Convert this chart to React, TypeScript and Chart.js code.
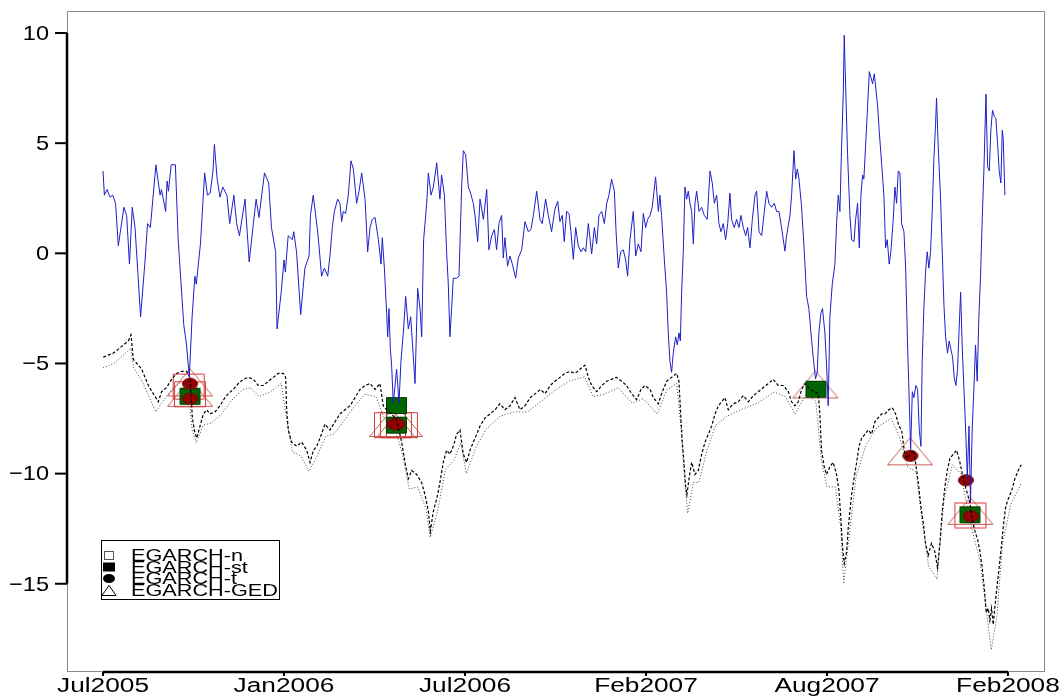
import React, { useEffect, useRef } from "react";
import { Chart, registerables } from "chart.js";

Chart.register(...registerables);

// ---------- data (x = trading-day index, y = percent) ----------
const xTickDays = [0, 130, 260, 390, 520, 650];
const xTickLabels = ["Jul2005", "Jan2006", "Jul2006", "Feb2007", "Aug2007", "Feb2008"];
const yTicks = [10, 5, 0, -5, -10, -15];

const returnDays = [
  0, 1, 3, 5, 7, 9, 11, 15, 17, 19, 21, 23, 27, 30, 32, 34, 38, 41, 42, 45, 46, 47, 49, 52, 54, 58, 60, 62, 64, 66, 67, 70,
  73, 75, 77, 79, 80, 82, 84, 86, 89, 91, 94, 96, 98, 102, 105, 108, 110, 112, 116, 119, 121, 124, 125, 128, 130, 131, 133,
  136, 137, 139, 142, 145, 148, 149, 151, 154, 155, 157, 159,
  161.4, 163.0, 164.7, 166.2, 168.5, 170.2, 171.4, 172.6, 174.3, 176.2, 178.1, 179.8, 182.2, 183.9, 185.8, 188.2, 190.1,
  191.8, 193.4, 195.4, 197.8, 199.7, 200.6, 202.1, 203.7, 204.5, 205.4, 206.4, 207.3, 208.5, 210.9, 212.6, 214.0, 215.7,
  217.4, 219.3, 221.0, 222.9, 224.1, 226.0, 227.7, 228.9, 230.3, 232.5, 233.7, 235.6, 237.3, 239.7, 242.0, 243.2, 245.2,
  246.8, 248.0, 249.2, 250.4, 251.6, 254.0, 255.7, 257.6, 258.8, 260.5, 262.4, 263.6, 266.0, 267.2, 269.1, 270.8, 273.2,
  275.6, 277.2, 279.2, 281.1, 282.7, 284.4, 286.3, 287.5, 288.7, 290.6, 292.3, 294.0, 296.4, 298.3, 300.7, 303.1, 305.5,
  307.4, 309.1, 311.5, 313.9, 315.5, 317.9, 319.9, 322.2, 324.6,
  326.6, 328.2, 329.9, 331.3, 333.0, 334.7, 336.1, 337.8, 339.5, 341.4, 343.3, 345.0, 346.7, 348.6, 351.0, 352.9, 354.6,
  356.2, 358.2, 360.1, 361.8, 363.4, 365.3, 367.3, 368.5, 370.1, 371.8, 373.7, 375.4, 376.8, 378.5, 380.9, 382.6, 384.5,
  386.4, 388.1, 389.8, 391.2, 392.9, 394.5, 396.9, 398.9, 400.0, 401.2, 403.2, 404.8, 406.0, 407.2, 408.4, 409.6, 411.3,
  412.5, 413.7, 414.7, 415.6, 416.8, 418.0, 419.2, 420.4, 421.6, 422.8, 424.0, 425.2, 426.4, 428.1, 430.0, 431.9, 434.0,
  436.0, 437.6, 439.1, 440.8, 442.4, 443.9, 445.5, 447.2, 448.7, 450.3, 451.5, 453.4, 455.1, 456.8, 458.2, 459.9, 461.6,
  463.0, 464.7, 466.4, 468.3, 469.5, 471.2, 473.1, 475.0, 476.7, 478.3, 480.3, 482.2, 483.8, 485.5, 487.4, 489.8,
  491.0, 492.2, 493.4, 494.6, 496.3, 497.5, 498.7, 499.9, 501.8, 503.7, 505.4, 507.0, 508.5, 510.1, 511.8, 513.0, 514.2,
  515.7, 516.8, 518.5, 519.7, 520.9, 522.1, 523.8, 525.7, 526.9, 528.1, 529.3, 530.5, 531.7, 532.4, 533.4, 534.8, 536.5,
  537.7, 539.4, 540.6, 542.0, 543.2, 544.4, 545.6, 546.5, 547.7, 549.2, 550.4, 551.6, 552.8, 554.0, 554.9, 556.4, 557.5,
  559.2, 560.9, 562.1, 563.3, 564.7, 565.9, 567.6, 568.8, 570.0, 571.2, 572.4, 573.6, 575.3, 576.5, 577.9, 579.1, 580.1,
  581.3, 582.4, 583.9, 585.1, 586.3, 587.5, 588.4, 589.6, 590.8, 592.0, 593.2, 594.4, 595.6, 596.8, 598.0, 598.7, 599.9,
  601.6, 602.8, 604.0, 605.2, 606.6, 607.8, 609.0, 610.2, 611.4, 612.6, 613.8, 614.8, 616.0, 617.2, 618.4, 619.6, 620.8,
  622.0, 623.1, 624.3, 625.5, 626.7, 627.9, 629.1, 630.3, 631.5, 632.7, 634.2, 635.4, 636.6, 637.7, 638.9, 640.1, 641.3,
  642.5, 643.7, 644.9, 645.9, 646.6, 647.8,
];
const returnValues = [
  3.74, 2.64, 2.9, 2.55, 2.64, 2.27, 0.34, 2.09, 1.72, -0.49, 2.09, 1.17, -2.88, -0.49, 1.35, 1.17, 4.02, 2.64, 2.9, 1.9,
  3.28, 2.82, 4.02, 4.02, 0.62, -3.24, -4.16, -5.6, -2.88, -1.04, -1.4, 0.43,
  3.65, 2.64, 2.73, 3.74, 4.94, 3.37, 2.55, 3.01, 2.64, 1.35, 2.64, 1.35, 0.8, 2.46, -0.39, 1.35, 2.46, 1.63, 3.65, 3.19,
  1.17, 0.07, -3.43, -1.77, -0.3, -0.85, 0.8,
  0.62, 0.98, 0.07, -2.78, -0.67, -0.12, 1.72, 2.64, 1.08, 0.43, -1.04, -0.67,
  -1.04, -0.12, 1.17, 1.9, 2.46, 2.27, 1.44, 1.9, 1.81, 2.64, 4.2, 3.83, 2.27, 2.82, 3.65, 2.46, 0.07,
  1.17, 1.54, 1.63, 0.62, -0.49, 0.71, -0.67, -2.69, -3.79, -2.51, -4.35, -5.08, -6.8, -5.26, -6.8, -4.9, -3.61,
  -1.96, -3.43, -2.88, -4.71, -5.91, -1.59, -2.51, -3.79, 0.62, 2.27, 3.65, 2.64, 3.01, 4.11, 2.46, 3.56, 2.64,
  0.07, -1.4, -3.79, -2.51, -1.13, -1.13, -1.04, 3.01, 4.66, 4.48, 3.01, 2.82, 2.27, 1.72, 0.53, 2.46, 1.54,
  2.9, 0.16, 0.8, 1.08, 0.16, 1.35, 1.72, -0.21, 0.71, -0.58, -0.12, -0.49, -1.13, -0.21, 0.16, 1.44, 0.98,
  1.08, 1.72, 2.82, 1.54, 1.35, 2.46, 1.72, 0.98, 2.0,
  2.36, 1.44, 1.72, 0.53, 1.9, 1.81, 0.98, -0.27, 1.17, 0.34, 0.07, 0.25, 0.07, 1.35, -0.03, 1.17, 0.43,
  1.72, 1.9, 1.35, 2.27, 2.64, 3.37, 2.82, 0.98, -0.67, 0.07, 0.16, -0.3, -1.04, 0.62, 1.9, -0.12, 0.43,
  0.07, 1.81, 1.17, 1.54, 1.72, 2.09, 3.47, 1.9, 2.64, 1.72, -0.3, -1.77, -3.61, -4.9, -5.4, -4.53, -3.79,
  -4.16, -3.61, -3.98, -1.77, 0.07, 3.01, 2.46, 2.82, 2.27, 1.9, 0.43, 2.27, 2.82, 1.9, 2.09, 1.72, 1.54,
  3.74, 3.19, 2.27, 2.64, 1.35, 0.98, 1.35, 0.62, 1.35, 2.73, 1.54, 1.17, 1.54, 1.17, 1.72, 1.17, 0.8,
  1.17, 0.25, 1.54, 2.64, 2.82, 0.98, 0.8, 1.9, 2.82, 2.27, 2.09, 2.27, 1.9, 1.9, 1.17, 0.1,
  0.8, 1.26, 1.72, 2.64, 4.66, 3.37, 3.83, 3.37, 2.09, 0.07, -1.96, -2.51, -3.61, -4.71, -5.7, -5.4, -3.61,
  -2.69, -2.51, -3.61, -5.08, -6.92, -2.88, -1.4, -0.49, 1.35, 2.64, 1.9, 4.85, 7.23, 9.9, 7.6, 4.48, 1.72,
  0.62, 0.53, 1.54, 2.27, 0.25, 2.64, 3.56, 3.37, 4.85, 6.68, 8.25, 7.97, 7.7, 8.15, 7.6, 6.68, 5.58,
  4.11, 2.64, 0.25, 0.62, -0.49, 0.07, 1.54, 3.01, 2.27, 3.74, 3.65, 1.35, 0.98, -0.67, -4.16, -6.74, -8.9,
  -6.28, -6.55, -6.0, -6.18, -8.02, -8.76, -4.9, -2.51, -0.85, 0.07, -0.67, 0.07, 1.9, 4.3, 5.86, 7.05, 4.85,
  2.46, 0.07, -2.32, -3.79, -4.53, -3.98, -4.35, -4.71, -5.63, -6.0, -5.26, -3.61, -1.77, -4.35, -6.18, -8.02, -10.2,
  -7.84, -11.3, -8.02, -6.18, -4.16, -5.81, -2.88, -1.04, 1.54, 3.74, 7.23, 3.93, 3.74, 5.58, 6.5, 6.22, 6.13,
  5.03, 3.74, 3.19, 5.58, 5.21, 2.64,
];

const varDays = [
  0.2, 3.8, 7.4, 11.0, 14.6, 18.2, 20.1, 21.8, 24.2, 27.8, 30.2, 32.6, 36.1, 39.7, 42.1, 45.7, 49.3, 52.9, 56.5, 60.1,
  62.5, 64.2, 65.6, 67.3, 69.7, 72.1, 74.5, 76.8, 80.4, 84.0, 87.6, 90.0, 93.6, 97.2, 100.8, 104.4, 108.0, 111.6, 115.1,
  118.7, 122.3, 125.9, 129.5, 131.2, 131.9, 133.1, 135.5, 139.1, 142.7, 146.3, 148.7, 151.1, 153.5, 155.9, 159.4, 163.0,
  166.6, 170.2, 173.8, 177.4, 181.0, 184.6, 188.2, 191.8, 195.4, 198.9, 201.3, 203.7, 207.3, 210.9, 214.5, 216.9, 219.3,
  221.7, 225.3, 228.9, 231.3, 233.7, 235.1, 237.3, 239.7, 242.0, 244.4, 246.8, 249.2, 251.6, 254.0, 256.4, 258.8, 261.2,
  263.6, 266.0, 268.4, 270.8, 274.4, 278.0, 281.6, 285.1, 288.7, 292.3, 295.9, 299.5, 303.1, 306.9, 310.5, 314.1, 317.5,
  321.2, 324.6, 328.2, 331.8, 335.4, 339.0, 342.6, 346.2, 348.6, 351.0, 354.6, 358.2, 361.8, 365.3, 368.9, 372.5, 376.1,
  379.7, 383.3, 386.4, 389.3, 392.9, 395.3, 398.9, 401.2, 404.8, 408.4, 412.0, 413.7, 414.9, 416.1, 417.3, 418.5, 419.4,
  420.9, 422.8, 425.2, 427.6, 430.0, 432.4, 434.8, 437.2, 439.6, 442.0, 444.3, 446.7, 449.1, 452.7, 456.3, 459.9, 463.5,
  467.1, 470.7, 474.3, 477.9, 481.4, 485.0, 488.6, 492.2, 494.6, 497.0, 499.4, 501.8, 504.2, 507.8, 511.3, 513.7, 514.9,
  516.1, 518.0, 519.7, 522.1, 524.5, 526.9, 528.6, 530.0, 531.2, 532.4, 534.1, 535.3, 536.5, 537.7, 539.4, 541.3, 543.0,
  544.9, 547.3, 549.7, 552.0, 554.4, 556.8, 559.2, 561.6, 564.5, 566.9, 569.3, 571.7, 573.6, 575.5, 577.2, 579.6, 582.0,
  583.6, 585.6, 587.5, 589.2, 590.8, 592.7, 595.1, 597.5, 599.4, 601.1, 602.8, 604.7, 606.4, 608.3, 610.7, 613.1, 615.5,
  617.9, 620.3, 622.7, 624.3, 626.3, 628.2, 629.9, 631.5, 633.0, 634.4, 635.8, 637.0, 638.2, 639.4, 641.1, 643.0, 644.9,
  646.6, 648.3, 650.2, 652.6, 655.0, 657.4, 659.5,
];
const varValues = [
  -4.71, -4.62, -4.53, -4.35, -4.16, -3.98, -3.7, -4.81, -4.99, -5.26, -5.63, -6.0, -6.37, -6.74, -6.28, -6.09, -5.72,
  -5.45, -5.36, -5.36, -5.63, -7.47, -8.02, -8.39, -7.84, -7.29, -7.1, -7.29, -7.2, -6.92, -6.55, -6.37, -6.18, -5.91,
  -5.72, -5.63, -5.72, -6.0, -6.0, -5.81, -5.63, -5.45, -5.45, -5.63, -7.1, -8.02, -8.57, -8.76, -8.57, -8.94, -9.49,
  -8.94, -8.76, -8.39, -7.75, -8.02, -7.65, -7.29, -7.1, -6.92, -6.55, -6.18, -6.0, -5.91, -6.18, -5.91, -6.92, -7.1,
  -7.29, -7.56, -8.57, -9.49, -10.23, -9.86, -10.04, -10.41, -10.96, -11.7, -12.62, -11.7, -11.15, -10.41, -9.49, -8.94,
  -9.12, -8.76, -8.21, -8.02, -9.12, -9.49, -8.94, -8.57, -8.21, -7.84, -7.47, -7.29, -7.1, -6.83, -7.1, -6.92, -6.55,
  -7.1, -6.92, -6.55, -6.37, -6.18, -6.37, -6.0, -5.81, -5.63, -5.45, -5.36, -5.45, -5.26, -5.08, -5.63, -6.0, -6.28,
  -6.0, -5.81, -5.72, -5.63, -5.81, -6.0, -6.37, -6.64, -6.18, -6.0, -6.18, -6.55, -6.83, -6.37, -5.81, -5.63, -5.45,
  -5.81, -7.29, -8.57, -9.49, -10.6, -10.96, -10.23, -9.49, -10.04, -9.86, -9.12, -8.57, -8.21, -7.84, -7.29, -6.92,
  -6.74, -6.55, -7.1, -6.83, -6.74, -6.46, -6.74, -6.46, -6.28, -6.09, -5.91, -5.72, -6.0, -6.0, -6.27, -6.74, -6.92,
  -6.74, -6.18, -5.91, -6.18, -6.28, -6.37, -7.29, -8.94, -9.68, -10.04, -9.68, -9.49, -10.04, -10.78, -12.07, -13.35,
  -14.09, -13.54, -12.44, -11.7, -10.96, -10.23, -9.49, -8.76, -8.39, -8.21, -8.02, -8.21, -7.65, -7.47, -7.29, -7.29,
  -7.1, -7.01, -7.29, -7.84, -8.02, -8.94, -9.31, -9.12, -8.94, -9.49, -10.41, -11.52, -12.25, -13.17, -13.72, -13.17,
  -13.54, -14.27, -13.17, -11.7, -10.6, -9.86, -9.31, -9.12, -8.94, -9.49, -10.23, -10.78, -11.33, -12.07, -12.62,
  -12.99, -13.54, -14.27, -15.19, -16.3, -16.11, -16.66, -16.11, -16.85, -15.74, -14.64, -13.54, -12.44, -11.52, -11.15,
  -10.78, -10.23, -9.86, -9.6,
];

const varLowDays = [
  0, 8, 15, 20, 22, 28, 33, 38, 42, 48, 55, 61, 64, 67, 72, 78, 85, 92, 100, 106, 112, 120, 128, 132, 136, 142, 148, 153,
  160, 166, 172, 180, 188, 196, 202, 210, 215, 220, 226, 232, 235, 240, 246, 252, 257, 261, 268, 275, 285, 295, 305, 315,
  325, 335, 346, 352, 360, 370, 380, 388, 398, 405, 412, 415, 418, 420, 424, 428, 434, 440, 448, 458, 470, 482, 490, 497,
  505, 512, 516, 520, 526, 530, 532, 536, 541, 548, 556, 566, 572, 578, 584, 588, 593, 599, 604, 610, 616, 624, 630, 634,
  638, 642, 646, 652, 660,
];
const varLowValues = [
  -5.2, -5.0, -4.6, -4.3, -5.2, -5.8, -6.5, -7.2, -6.8, -6.3, -5.9, -6.0, -8.0, -8.6, -7.8, -7.7, -7.3, -6.7, -6.2, -6.1,
  -6.5, -6.3, -5.9, -7.6, -9.0, -9.2, -9.9, -9.3, -8.3, -8.2, -7.7, -7.0, -6.4, -6.5, -7.5, -8.0, -9.1, -10.7, -10.6,
  -11.6, -12.9, -11.8, -9.8, -9.4, -8.6, -10.0, -8.8, -8.0, -7.4, -7.2, -7.2, -6.7, -6.2, -5.8, -5.6, -6.5, -6.4, -6.1,
  -6.8, -6.6, -7.3, -6.2, -5.9, -7.8, -10.5, -11.8, -10.4, -10.4, -8.9, -7.8, -7.4, -7.1, -6.8, -6.3, -6.5, -7.3, -6.4,
  -6.7, -9.4, -10.6, -10.6, -12.5, -15.0, -12.8, -10.1, -8.7, -7.9, -7.5, -8.3, -9.7, -9.9, -12.0, -14.2, -14.8, -11.2,
  -9.6, -10.0, -12.5, -14.0, -16.0, -18.0, -16.5, -13.2, -11.4, -10.4,
];

const egarchNDays = [61.5, 62.5, 206.1, 210.4, 214.7, 623.0];
const egarchNValues = [-6.05, -6.4, -7.8, -7.8, -7.8, -11.9];
const egarchStDays = [62.5, 210.8, 210.8, 512.1, 622.7];
const egarchStValues = [-6.49, -6.91, -7.8, -6.17, -11.87];
const egarchTDays = [62.5, 62.5, 209.3, 211.5, 579.9, 619.8, 623.4];
const egarchTValues = [-5.92, -6.6, -7.75, -7.75, -9.19, -10.3, -11.94];
const egarchGedDays = [62.5, 62.5, 207.6, 213.3, 511.7, 579.6, 623.0];
const egarchGedValues = [-5.86, -6.33, -7.7, -7.7, -5.95, -8.99, -11.69];

const legendLabels = ["EGARCH-n", "EGARCH-st", "EGARCH-t", "EGARCH-GED"];

// ---------- helpers ----------
const pts = (xs: number[], ys: number[]) => xs.map((x, i) => ({ x, y: ys[i] }));

function makeSymbol(kind: string, w: number, h: number, stroke: string, fill: string | null) {
  const c = document.createElement("canvas");
  c.width = w + 2;
  c.height = h + 2;
  const g = c.getContext("2d")!;
  g.lineWidth = 1;
  g.strokeStyle = stroke;
  g.beginPath();
  if (kind === "rect") g.rect(1.5, 1.5, w - 1, h - 1);
  else if (kind === "ellipse") g.ellipse(c.width / 2, c.height / 2, w / 2 - 0.5, h / 2 - 0.5, 0, 0, Math.PI * 2);
  else if (kind === "tri") {
    g.moveTo(c.width / 2, 1.5);
    g.lineTo(w + 0.5, h + 0.5);
    g.lineTo(1.5, h + 0.5);
    g.closePath();
  }
  if (fill) {
    g.fillStyle = fill;
    g.fill();
  }
  g.stroke();
  return c;
}

function drawScaledText(ctx: CanvasRenderingContext2D, text: string, x: number, y: number, align: CanvasTextAlign, sx: number) {
  ctx.save();
  ctx.translate(x, y);
  ctx.scale(sx, 1);
  ctx.textAlign = align;
  ctx.fillText(text, 0, 0);
  ctx.restore();
}

const FONT = "'Liberation Sans', Arial, sans-serif";

const stataAxes = {
  id: "stataAxes",
  beforeDatasetsDraw(chart: any) {
    const { ctx, chartArea: a } = chart;
    ctx.save();
    ctx.strokeStyle = "#8a8a8a";
    ctx.lineWidth = 1;
    ctx.strokeRect(a.left + 0.5, a.top + 0.5, a.right - a.left - 1, a.bottom - a.top);
    ctx.restore();
  },
  afterDraw(chart: any) {
    const { ctx, chartArea: a, scales } = chart;
    const xs = scales.x;
    const ys = scales.y;
    ctx.save();
    ctx.strokeStyle = "#000";
    ctx.fillStyle = "#000";
    // y axis
    const yTop = ys.getPixelForValue(yTicks[0]);
    const yBot = ys.getPixelForValue(yTicks[yTicks.length - 1]);
    ctx.lineWidth = 2.5;
    ctx.beginPath();
    ctx.moveTo(a.left, yTop);
    ctx.lineTo(a.left, yBot);
    ctx.stroke();
    ctx.lineWidth = 2;
    ctx.font = `21px ${FONT}`;
    ctx.textBaseline = "middle";
    yTicks.forEach((v) => {
      const py = ys.getPixelForValue(v);
      ctx.beginPath();
      ctx.moveTo(a.left - 12, py);
      ctx.lineTo(a.left, py);
      ctx.stroke();
      const label = v < 0 ? "\u2212" + Math.abs(v) : String(v);
      drawScaledText(ctx, label, a.left - 18, py + 1, "right", 1.12);
    });
    // x axis
    const axY = a.bottom + 1;
    const xL = xs.getPixelForValue(xTickDays[0]);
    const xR = xs.getPixelForValue(xTickDays[xTickDays.length - 1]);
    ctx.lineWidth = 2.5;
    ctx.beginPath();
    ctx.moveTo(xL, axY);
    ctx.lineTo(xR, axY);
    ctx.stroke();
    ctx.lineWidth = 2;
    ctx.font = `20px ${FONT}`;
    ctx.textBaseline = "alphabetic";
    const sx = 92 / ctx.measureText("Jul2005").width;
    xTickDays.forEach((d, i) => {
      const px = xs.getPixelForValue(d);
      ctx.beginPath();
      ctx.moveTo(px, axY);
      ctx.lineTo(px, axY + 4);
      ctx.stroke();
      drawScaledText(ctx, xTickLabels[i], px, 692, "center", sx);
    });
    // legend
    const lx = 101.5, ly = 540.5, lw = 178, lh = 59;
    ctx.fillStyle = "#fff";
    ctx.fillRect(lx, ly, lw, lh);
    ctx.lineWidth = 1;
    ctx.strokeStyle = "#000";
    ctx.strokeRect(lx, ly, lw, lh);
    ctx.font = `17px ${FONT}`;
    const lsx = 147 / ctx.measureText("EGARCH-GED").width;
    const baselines = [561, 572.5, 584, 596];
    legendLabels.forEach((t, i) => {
      const by = baselines[i];
      const cy = by - 5.5;
      const cx = 109;
      ctx.fillStyle = "#000";
      ctx.strokeStyle = "#000";
      ctx.lineWidth = 1;
      ctx.beginPath();
      if (i === 0) {
        ctx.strokeStyle = "#555";
        ctx.strokeRect(cx - 4.5, cy - 4, 9, 8);
      } else if (i === 1) {
        ctx.fillRect(cx - 6, cy - 4.5, 12, 9);
      } else if (i === 2) {
        ctx.ellipse(cx, cy, 6, 4.5, 0, 0, Math.PI * 2);
        ctx.fill();
      } else {
        ctx.moveTo(cx, cy - 5);
        ctx.lineTo(cx + 7, cy + 5);
        ctx.lineTo(cx - 7, cy + 5);
        ctx.closePath();
        ctx.stroke();
      }
      ctx.fillStyle = "#000";
      drawScaledText(ctx, t, 131, by, "left", lsx);
    });
    ctx.restore();
  },
};

export default function App() {
  const ref = useRef<HTMLCanvasElement | null>(null);
  useEffect(() => {
    if (!ref.current) return;
    const redSquare = makeSymbol("rect", 32, 26, "rgb(215,55,55)", null);
    const greenSquare = makeSymbol("rect", 21, 17, "rgb(0,60,0)", "rgb(0,100,0)");
    const redDot = makeSymbol("ellipse", 16, 12, "rgb(120,0,0)", "rgb(150,0,0)");
    const triangle = makeSymbol("tri", 46, 28, "rgb(200,95,85)", null);
    const marker = (data: any, style: any) => ({
      data,
      showLine: false,
      pointStyle: style,
      pointRadius: 10,
      pointHoverRadius: 10,
      borderColor: "transparent",
      backgroundColor: "transparent",
    });
    const chart = new Chart(ref.current, {
      type: "line",
      data: {
        datasets: [
          {
            data: pts(returnDays, returnValues),
            borderColor: "rgb(30,30,200)",
            borderWidth: 1,
            pointRadius: 0,
            tension: 0,
          },
          {
            data: pts(varDays, varValues),
            borderColor: "#000",
            borderWidth: 1.2,
            borderDash: [3, 2],
            pointRadius: 0,
            tension: 0,
          },
          {
            data: pts(varLowDays, varLowValues),
            borderColor: "#444",
            borderWidth: 1,
            borderDash: [1, 2],
            pointRadius: 0,
            tension: 0,
          },
          marker(pts(egarchTDays, egarchTValues), redDot),
          marker(pts(egarchStDays, egarchStValues), greenSquare),
          marker(pts(egarchNDays, egarchNValues), redSquare),
          marker(pts(egarchGedDays, egarchGedValues), triangle),
        ] as any,
      },
      options: {
        animation: false,
        responsive: false,
        devicePixelRatio: 1,
        events: [],
        layout: { padding: { left: 67, top: 6, right: 17, bottom: 29 } },
        plugins: { legend: { display: false }, tooltip: { enabled: false } },
        scales: {
          x: { type: "linear", min: -25.86, max: 676.6, display: false },
          y: { type: "linear", min: -18.96, max: 11.0, display: false },
        },
      } as any,
      plugins: [stataAxes],
    });
    return () => chart.destroy();
  }, []);
  return (
    <div style={{ position: "absolute", left: 0, top: 0, width: 1062, height: 700, background: "#fff" }}>
      <canvas ref={ref} width={1062} height={700} />
    </div>
  );
}
